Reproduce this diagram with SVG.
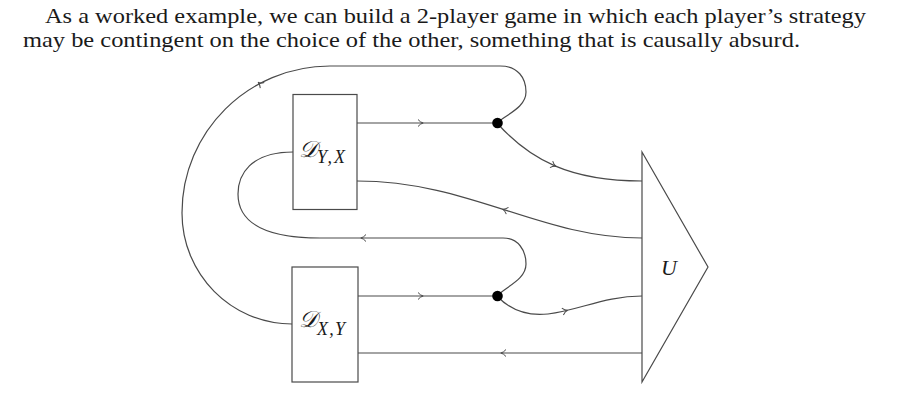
<svg xmlns="http://www.w3.org/2000/svg" width="901" height="402" viewBox="0 0 901 402">
<style>
.txt{font-family:"Liberation Serif","Times New Roman",serif;font-size:21px;fill:#1a1a1a}
.math{font-family:"Liberation Serif","DejaVu Serif",serif;font-style:italic;fill:#1a1a1a}
.box{fill:#fff;stroke:#4a4a4a;stroke-width:1.2}
.wire{fill:none;stroke:#4a4a4a;stroke-width:1.2}
.arr{fill:none;stroke:#4a4a4a;stroke-width:1}
</style>
<defs>
<path id="chev" class="arr" d="M -4 -3.5 Q -1.5 -0.5 1.2 0 Q -1.5 0.5 -4 3.5"/>
</defs>
<rect width="901" height="402" fill="#fff"/>
<g id="caption">
<text class="txt" x="45" y="23" textLength="821" lengthAdjust="spacingAndGlyphs">As a worked example, we can build a 2-player game in which each player’s strategy</text>
<text class="txt" x="23" y="47" textLength="777" lengthAdjust="spacingAndGlyphs">may be contingent on the choice of the other, something that is causally absurd.</text>
</g>
<g id="connectors">
<path class="wire" d="M 357 123 L 497 123"/>
<path class="wire" d="M 358 296 L 497 296"/>
<path class="wire" d="M 497 123 C 530 160 570 181 642 181"/>
<path class="wire" d="M 357 181 C 470 181 540 238 642 238"/>
<path class="wire" d="M 293 152 C 250 152 238 175 238 194 C 238 225 270 238 320 238 L 503 238 C 518 238 526 250 526 264 C 526 280 505 287 497 296"/>
<path class="wire" d="M 292 324 C 231 324 182 274 182 213 C 182 132 248 66 330 66 L 500 66 C 518 66 526 78 526 92 C 526 108 505 115 497 123"/>
<path class="wire" d="M 497 296 C 512 312 530 316 548 314 C 580 310 605 296 642 296"/>
<path class="wire" d="M 642 353 L 358 353"/>
<use href="#chev" transform="translate(422 123)"/>
<use href="#chev" transform="translate(422 296)"/>
<use href="#chev" transform="translate(555 166) rotate(23)"/>
<use href="#chev" transform="translate(503.6 209.5) rotate(198)"/>
<use href="#chev" transform="translate(362 238) rotate(180)"/>
<use href="#chev" transform="translate(259 83) rotate(215)"/>
<use href="#chev" transform="translate(566.5 310.6) rotate(-13)"/>
<use href="#chev" transform="translate(502 353) rotate(180)"/>
<circle cx="497.5" cy="123" r="5.3" fill="#000"/>
<circle cx="497.5" cy="296" r="5.3" fill="#000"/>
</g>
<g id="DYX">
<rect class="box" x="293" y="94.5" width="64" height="115"/>
<text class="math" x="299" y="157" font-size="23">𝒟<tspan font-size="18" dy="6" textLength="28" lengthAdjust="spacing">Y,X</tspan></text>
</g>
<g id="DXY">
<rect class="box" x="292" y="267" width="66" height="115"/>
<text class="math" x="299" y="327" font-size="23">𝒟<tspan font-size="18" dy="8" textLength="28" lengthAdjust="spacing">X,Y</tspan></text>
</g>
<g id="U">
<path class="box" d="M 642 152 L 708 267 L 642 382 Z"/>
<text class="math" x="669" y="275" font-size="22" text-anchor="middle">U</text>
</g>
</svg>
